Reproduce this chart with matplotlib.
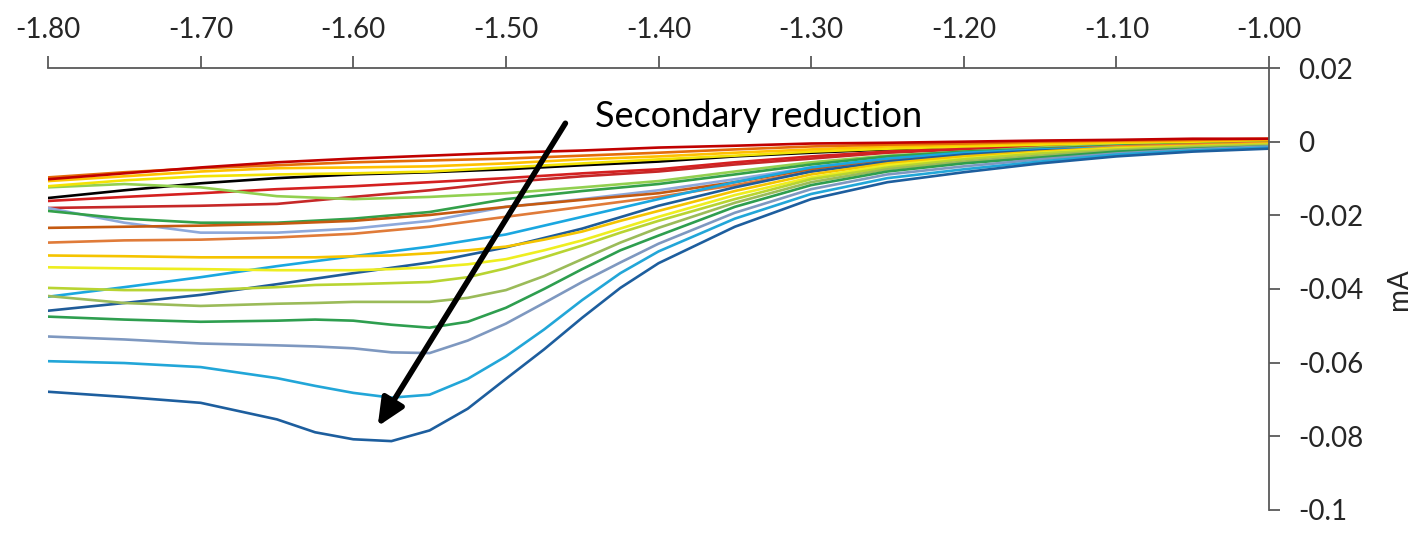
import matplotlib
matplotlib.use('Agg')
from matplotlib import pyplot as plt

plt.rcParams['font.family'] = 'Lato'
plt.rcParams['axes.unicode_minus'] = False

# potential (V): coarse sampling for the smooth curves, finer one for the dipping ones
pot_coarse = [-1.80, -1.75, -1.70, -1.65, -1.60, -1.55, -1.50, -1.45, -1.40,
              -1.35, -1.30, -1.25, -1.20, -1.15, -1.10, -1.05, -1.00]
pot_fine = [-1.80, -1.75, -1.70, -1.65, -1.625, -1.60, -1.575, -1.55, -1.525, -1.50, -1.475,
            -1.45, -1.425, -1.40, -1.35, -1.30, -1.25, -1.20, -1.15, -1.10, -1.05, -1.00]

# current (mA)
i_black = [-0.0153, -0.0132, -0.0113, -0.0099, -0.0089, -0.0083, -0.0075, -0.0064, -0.0054,
           -0.0040, -0.0030, -0.0021, -0.0013, -0.0008, -0.0003, 0.0000, 0.0003]
i_red_a = [-0.0102, -0.0086, -0.0070, -0.0056, -0.0046, -0.0038, -0.0030, -0.0024, -0.0016,
           -0.0011, -0.0005, -0.0003, 0.0000, 0.0003, 0.0005, 0.0008, 0.0008]
i_orange_a = [-0.0097, -0.0083, -0.0072, -0.0064, -0.0056, -0.0051, -0.0046, -0.0038, -0.0030,
              -0.0021, -0.0013, -0.0008, -0.0005, 0.0000, 0.0003, 0.0005, 0.0008]
i_gold_a = [-0.0107, -0.0094, -0.0081, -0.0072, -0.0070, -0.0067, -0.0059, -0.0048, -0.0040,
            -0.0030, -0.0021, -0.0013, -0.0008, -0.0003, 0.0000, 0.0003, 0.0005]
i_yellow_a = [-0.0121, -0.0105, -0.0094, -0.0089, -0.0086, -0.0081, -0.0070, -0.0059, -0.0048,
              -0.0038, -0.0027, -0.0019, -0.0013, -0.0008, -0.0003, 0.0000, 0.0005]
i_red_b = [-0.0161, -0.0150, -0.0140, -0.0129, -0.0121, -0.0110, -0.0099, -0.0086, -0.0075,
           -0.0056, -0.0040, -0.0027, -0.0019, -0.0011, -0.0005, 0.0000, 0.0003]
i_lime_a = [-0.0124, -0.0115, -0.0124, -0.0148, -0.0156, -0.0150, -0.0140, -0.0124, -0.0107,
            -0.0081, -0.0056, -0.0038, -0.0027, -0.0016, -0.0008, -0.0003, 0.0000]
i_red_c = [-0.0180, -0.0177, -0.0174, -0.0169, -0.0150, -0.0132, -0.0110, -0.0094, -0.0081,
           -0.0062, -0.0046, -0.0030, -0.0021, -0.0013, -0.0005, -0.0003, 0.0003]
i_steel_a = [-0.0180, -0.0220, -0.0247, -0.0247, -0.0236, -0.0215, -0.0177, -0.0156, -0.0132,
             -0.0102, -0.0070, -0.0046, -0.0030, -0.0019, -0.0011, -0.0005, -0.0003]
i_green_a = [-0.0188, -0.0209, -0.0220, -0.0220, -0.0209, -0.0191, -0.0156, -0.0134, -0.0115,
             -0.0089, -0.0062, -0.0040, -0.0027, -0.0019, -0.0011, -0.0005, 0.0000]
i_brown_a = [-0.0234, -0.0231, -0.0228, -0.0223, -0.0215, -0.0199, -0.0177, -0.0158, -0.0140,
             -0.0110, -0.0075, -0.0048, -0.0032, -0.0021, -0.0013, -0.0008, -0.0003]
i_orange_b = [-0.0274, -0.0268, -0.0266, -0.0260, -0.0250, -0.0231, -0.0204, -0.0177, -0.0150,
              -0.0118, -0.0081, -0.0054, -0.0035, -0.0024, -0.0013, -0.0008, -0.0003]
i_cyan_a = [-0.0421, -0.0395, -0.0368, -0.0338, -0.0311, -0.0285, -0.0252, -0.0204, -0.0156,
            -0.0110, -0.0070, -0.0046, -0.0030, -0.0021, -0.0016, -0.0013, -0.0011]
i_navy_a = [-0.0459, -0.0438, -0.0416, -0.0387, -0.0357, -0.0328, -0.0287, -0.0236, -0.0174,
            -0.0124, -0.0081, -0.0054, -0.0035, -0.0024, -0.0019, -0.0013, -0.0013]

i_gold_b = [-0.0309, -0.0311, -0.0314, -0.0314, -0.0314, -0.0311, -0.0309, -0.0303, -0.0295, -0.0285, -0.0266,
            -0.0244, -0.0215, -0.0188, -0.0134, -0.0089, -0.0059, -0.0040, -0.0027, -0.0016, -0.0011, -0.0005]
i_yellow_b = [-0.0341, -0.0344, -0.0346, -0.0349, -0.0349, -0.0349, -0.0346, -0.0341, -0.0333, -0.0319, -0.0295,
              -0.0268, -0.0236, -0.0204, -0.0145, -0.0097, -0.0064, -0.0046, -0.0030, -0.0019, -0.0013, -0.0008]
i_lime_b = [-0.0397, -0.0403, -0.0403, -0.0395, -0.0389, -0.0387, -0.0384, -0.0381, -0.0368, -0.0344, -0.0314,
            -0.0282, -0.0247, -0.0215, -0.0156, -0.0102, -0.0070, -0.0048, -0.0032, -0.0021, -0.0013, -0.0008]
i_olive = [-0.0419, -0.0438, -0.0446, -0.0440, -0.0438, -0.0435, -0.0435, -0.0435, -0.0424, -0.0403, -0.0365,
           -0.0319, -0.0274, -0.0234, -0.0166, -0.0110, -0.0075, -0.0054, -0.0038, -0.0024, -0.0016, -0.0011]
i_green_b = [-0.0475, -0.0483, -0.0489, -0.0486, -0.0483, -0.0486, -0.0497, -0.0505, -0.0489, -0.0451, -0.0400,
             -0.0346, -0.0295, -0.0255, -0.0177, -0.0118, -0.0081, -0.0059, -0.0043, -0.0027, -0.0019, -0.0013]
i_steel_b = [-0.0529, -0.0537, -0.0548, -0.0553, -0.0556, -0.0561, -0.0572, -0.0574, -0.0540, -0.0494, -0.0438,
             -0.0381, -0.0328, -0.0277, -0.0193, -0.0129, -0.0089, -0.0067, -0.0048, -0.0032, -0.0021, -0.0013]
i_cyan_b = [-0.0596, -0.0601, -0.0612, -0.0642, -0.0663, -0.0682, -0.0695, -0.0687, -0.0644, -0.0583, -0.0510,
            -0.0430, -0.0357, -0.0298, -0.0209, -0.0142, -0.0099, -0.0075, -0.0054, -0.0035, -0.0024, -0.0016]
i_navy_b = [-0.0679, -0.0693, -0.0709, -0.0754, -0.0789, -0.0808, -0.0813, -0.0784, -0.0725, -0.0644, -0.0564,
            -0.0478, -0.0397, -0.0330, -0.0231, -0.0156, -0.0110, -0.0083, -0.0059, -0.0040, -0.0027, -0.0019]

x_ticks = [-1.8, -1.7, -1.6, -1.5, -1.4, -1.3, -1.2, -1.1, -1.0]
x_labels = ['-1.80', '-1.70', '-1.60', '-1.50', '-1.40', '-1.30', '-1.20', '-1.10', '-1.00']
y_ticks = [0.02, 0.0, -0.02, -0.04, -0.06, -0.08, -0.1]
y_labels = ['0.02', '0', '-0.02', '-0.04', '-0.06', '-0.08', '-0.1']

curves = [
    (pot_coarse, i_black, '#000000'),
    (pot_coarse, i_red_c, '#c62828'),
    (pot_coarse, i_red_b, '#d42020'),
    (pot_coarse, i_lime_a, '#92d050'),
    (pot_coarse, i_steel_a, '#8ea9db'),
    (pot_coarse, i_green_a, '#33a04a'),
    (pot_coarse, i_brown_a, '#c55a11'),
    (pot_coarse, i_orange_b, '#e07b39'),
    (pot_coarse, i_yellow_a, '#f2e205'),
    (pot_coarse, i_gold_a, '#ffc000'),
    (pot_coarse, i_orange_a, '#e46c0a'),
    (pot_coarse, i_red_a, '#c00000'),
    (pot_coarse, i_cyan_a, '#1aa7e0'),
    (pot_coarse, i_navy_a, '#1f5c99'),
    (pot_fine, i_gold_b, '#f5c400'),
    (pot_fine, i_yellow_b, '#eeee20'),
    (pot_fine, i_lime_b, '#b8d432'),
    (pot_fine, i_olive, '#9bbb59'),
    (pot_fine, i_green_b, '#2e9e4f'),
    (pot_fine, i_steel_b, '#7e98c0'),
    (pot_fine, i_cyan_b, '#22a6d8'),
    (pot_fine, i_navy_b, '#1d5e9e'),
]

fig = plt.figure(figsize=(14.16, 5.52), dpi=100)
ax = fig.add_axes([0.0339, 0.0761, 0.8623, 0.8007])

for pot, cur, col in curves:
    ax.plot(pot, cur, color=col, lw=1.9, solid_joinstyle='round', solid_capstyle='round')

ax.set_xlim(-1.8, -1.0)
ax.set_ylim(-0.1, 0.02)

ax.spines['left'].set_visible(False)
ax.spines['bottom'].set_visible(False)
for side in ['top', 'right']:
    ax.spines[side].set_color('#595959')
    ax.spines[side].set_linewidth(1.3)

ax.xaxis.tick_top()
ax.yaxis.tick_right()
ax.yaxis.set_label_position('right')
ax.set_xticks(x_ticks, x_labels)
ax.set_yticks(y_ticks, y_labels)
ax.tick_params(axis='x', direction='out', length=9, width=1.3, pad=9,
               labelsize=20, color='#595959', labelcolor='#262626')
ax.tick_params(axis='y', direction='out', length=8, width=1.3, pad=13,
               labelsize=20, color='#595959', labelcolor='#262626')
ax.set_ylabel('mA', fontsize=20, color='#262626', labelpad=16)

ax.annotate('', xy=(-1.584, -0.0773), xytext=(-1.461, 0.0050),
            arrowprops=dict(arrowstyle='-|>,head_length=1.1,head_width=0.5',
                            mutation_scale=15, lw=4.0, color='black',
                            shrinkA=0, shrinkB=0))
ax.text(-1.4415, 0.0040, 'Secondary reduction', fontsize=26, va='baseline', color='black')

plt.savefig('out.png', dpi=100)
